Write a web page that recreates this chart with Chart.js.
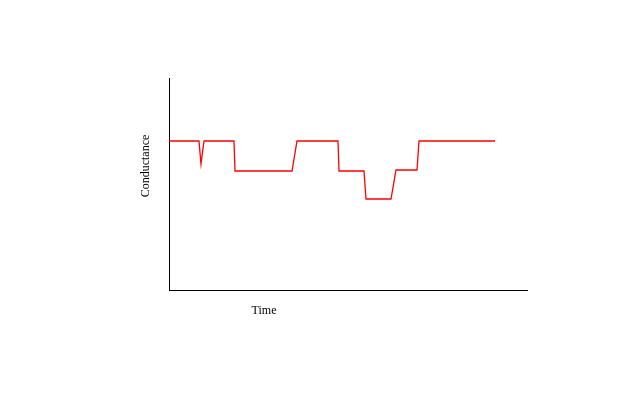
<!DOCTYPE html>
<html lang="en">
<head>
    <meta charset="UTF-8">
    <title>Conductance</title>
    <style>
        html, body { margin: 0; padding: 0; background: #fff; }
        #chartBlock { width: 640px; height: 400px; position: relative; }
    </style>
</head>
<body>
    <div id="chartBlock">
        <canvas id="myChart"></canvas>
    </div>

<script src="https://cdn.jsdelivr.net/npm/chart.js@4/dist/chart.umd.min.js"></script>
<script>
    // time (arbitrary units) and conductance values
    var timeValues = [0, 30, 32, 35, 65, 66, 123, 128, 169, 170, 195, 197, 222, 227, 248, 250, 326];
    var conductanceValues = [149, 149, 126, 149, 149, 119, 119, 149, 149, 119, 119, 91, 91, 120, 120, 149, 149];
    var xTitle = 'Time';
    var yTitle = 'Conductance';

    var points = [];
    for (var i = 0; i < timeValues.length; i++) {
        points.push({ x: timeValues[i], y: conductanceValues[i] });
    }

    // axis titles sit off-centre in the original, so draw them by hand
    var titlesPlugin = {
        id: 'titles',
        afterDraw: function (chart) {
            var ctx = chart.ctx;
            var area = chart.chartArea;
            ctx.save();
            ctx.fillStyle = '#000';
            ctx.font = '12px "Liberation Serif", "Times New Roman", serif';
            ctx.textAlign = 'center';
            ctx.textBaseline = 'middle';
            ctx.fillText(xTitle, area.left + 95, area.bottom + 21);
            ctx.translate(area.left - 23, area.top + 88);
            ctx.rotate(-Math.PI / 2);
            ctx.fillText(yTitle, 0, 0);
            ctx.restore();
        }
    };

    var ctx = document.getElementById('myChart').getContext('2d');
    new Chart(ctx, {
        type: 'line',
        data: {
            datasets: [{
                data: points,
                borderColor: '#ff0000',
                borderWidth: 1.3,
                pointRadius: 0,
                fill: false,
                tension: 0
            }]
        },
        options: {
            responsive: true,
            maintainAspectRatio: false,
            animation: false,
            layout: { padding: { left: 169, top: 78, right: 113, bottom: 110 } },
            plugins: {
                legend: { display: false },
                tooltip: { enabled: false }
            },
            scales: {
                x: {
                    type: 'linear',
                    min: 0,
                    max: 358,
                    ticks: { display: false },
                    grid: { display: false, drawTicks: false },
                    border: { display: true, color: '#000', width: 1 }
                },
                y: {
                    min: 0,
                    max: 212,
                    ticks: { display: false },
                    grid: { display: false, drawTicks: false },
                    border: { display: true, color: '#000', width: 1 }
                }
            }
        },
        plugins: [titlesPlugin]
    });
</script>
</body>
</html>
